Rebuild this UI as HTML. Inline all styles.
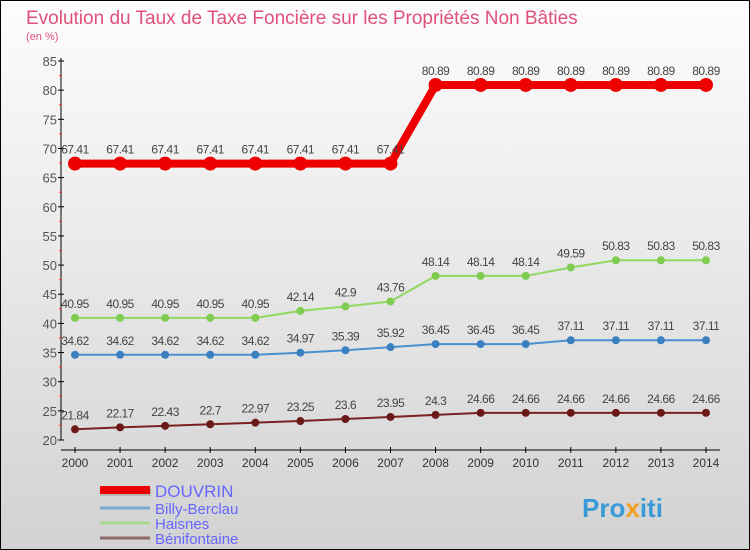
<!DOCTYPE html>
<html><head><meta charset="utf-8"><style>
body{margin:0;}
#c{width:750px;height:550px;position:relative;overflow:hidden;font-family:"Liberation Sans",sans-serif;}
</style></head><body>
<div id="c">
<svg id="s" width="750" height="550" xmlns="http://www.w3.org/2000/svg">
<defs><linearGradient id="bg" x1="0" y1="0" x2="0" y2="1"><stop offset="0" stop-color="#fdfdfd"/><stop offset="1" stop-color="#d2d2d2"/></linearGradient></defs>
<rect x="0.5" y="0.5" width="749" height="549" fill="url(#bg)" stroke="#000"/>
<text x="26" y="24" font-size="19" fill="#e0507a">Evolution du Taux de Taxe Foncière sur les Propriétés Non Bâties</text>
<text x="26" y="40" font-size="11" fill="#e0507a">(en %)</text>
<g id="axes"></g><g id="series"></g>
<g>
<line x1="100" y1="492" x2="151" y2="492" stroke="#999" stroke-width="8" opacity="0.5"/>
<line x1="100" y1="490" x2="150" y2="490" stroke="#e00" stroke-width="8"/>
<text x="155" y="497" font-size="17" fill="#6666ff">DOUVRIN</text>
<line x1="100" y1="508" x2="150" y2="508" stroke="#7aaad0" stroke-width="3"/>
<text x="155" y="514" font-size="15" fill="#6666ff">Billy-Berclau</text>
<line x1="100" y1="523" x2="150" y2="523" stroke="#a8d890" stroke-width="3"/>
<text x="155" y="529" font-size="15" fill="#6666ff">Haisnes</text>
<line x1="100" y1="538" x2="150" y2="538" stroke="#906868" stroke-width="3"/>
<text x="155" y="544" font-size="15" fill="#6666ff">Bénifontaine</text>
</g>
<text x="582" y="517" font-size="26" font-weight="bold" fill="#3a9ad8">Pro<tspan fill="#f0a020">x</tspan>iti</text>
</svg></div>
<script>
const years=[2000,2001,2002,2003,2004,2005,2006,2007,2008,2009,2010,2011,2012,2013,2014];
const douvrin=[67.41,67.41,67.41,67.41,67.41,67.41,67.41,67.41,80.89,80.89,80.89,80.89,80.89,80.89,80.89];
const billy=[34.62,34.62,34.62,34.62,34.62,34.97,35.39,35.92,36.45,36.45,36.45,37.11,37.11,37.11,37.11];
const haisnes=[40.95,40.95,40.95,40.95,40.95,42.14,42.9,43.76,48.14,48.14,48.14,49.59,50.83,50.83,50.83];
const beni=[21.84,22.17,22.43,22.7,22.97,23.25,23.6,23.95,24.3,24.66,24.66,24.66,24.66,24.66,24.66];
const douvrinLabels=["67.41","67.41","67.41","67.41","67.41","67.41","67.41","67.41","80.89","80.89","80.89","80.89","80.89","80.89","80.89"];
const billyLabels=["34.62","34.62","34.62","34.62","34.62","34.97","35.39","35.92","36.45","36.45","36.45","37.11","37.11","37.11","37.11"];
const haisnesLabels=["40.95","40.95","40.95","40.95","40.95","42.14","42.9","43.76","48.14","48.14","48.14","49.59","50.83","50.83","50.83"];
const beniLabels=["21.84","22.17","22.43","22.7","22.97","23.25","23.6","23.95","24.3","24.66","24.66","24.66","24.66","24.66","24.66"];
const yTicks=[20,25,30,35,40,45,50,55,60,65,70,75,80,85];
const NS="http://www.w3.org/2000/svg";
const X=i=>75+i*(631/(years.length-1));
const Y=v=>440-(v-20)*(379/65);
function mk(t,a,p){const e=document.createElementNS(NS,t);for(const k in a)e.setAttribute(k,a[k]);p.appendChild(e);return e;}
const ax=document.getElementById('axes');
mk('line',{x1:61,y1:58,x2:61,y2:440,stroke:'#000'},ax);
mk('line',{x1:61,y1:450,x2:720,y2:450,stroke:'#000'},ax);
yTicks.forEach(v=>{
 mk('line',{x1:58,y1:Y(v),x2:64,y2:Y(v),stroke:'#000'},ax);
 if(v<85) mk('line',{x1:59,y1:Y(v+2.5),x2:62,y2:Y(v+2.5),stroke:'#f33'},ax);
 const t=mk('text',{x:57,y:Y(v)+5,'font-size':13,fill:'#555','text-anchor':'end'},ax);t.textContent=v;
 
});
years.forEach((y,i)=>{
 mk('line',{x1:X(i),y1:447,x2:X(i),y2:453,stroke:'#000'},ax);
 const t=mk('text',{x:X(i),y:467,'font-size':12,fill:'#333','text-anchor':'middle'},ax);t.textContent=y;
 
});
const sg=document.getElementById('series');
function draw(vals,labels,col,dot,w,r,name){
 const g=mk('g',{},sg);
 
 
 mk('polyline',{points:vals.map((v,i)=>X(i)+','+Y(v)).join(' '),fill:'none',stroke:col,'stroke-width':w,'stroke-linejoin':'round'},g);
 vals.forEach((v,i)=>{
  const c=mk('circle',{cx:X(i),cy:Y(v),r:r,fill:dot},g);
  
  
  const t=mk('text',{x:X(i),y:Y(v)-10,'font-size':12,fill:'#444','text-anchor':'middle','letter-spacing':'-0.5'},g);
  t.textContent=labels[i];
 });
}
draw(beni,beniLabels,'#7a2020','#6a1818',2,4,'benifontaine');
draw(billy,billyLabels,'#4a90d0','#3a80c0',2,4,'billy-berclau');
draw(haisnes,haisnesLabels,'#90d860','#80cc50',2,4,'haisnes');
draw(douvrin,douvrinLabels,'#e00','#e00',8,7,'douvrin');
</script>
</body></html>
